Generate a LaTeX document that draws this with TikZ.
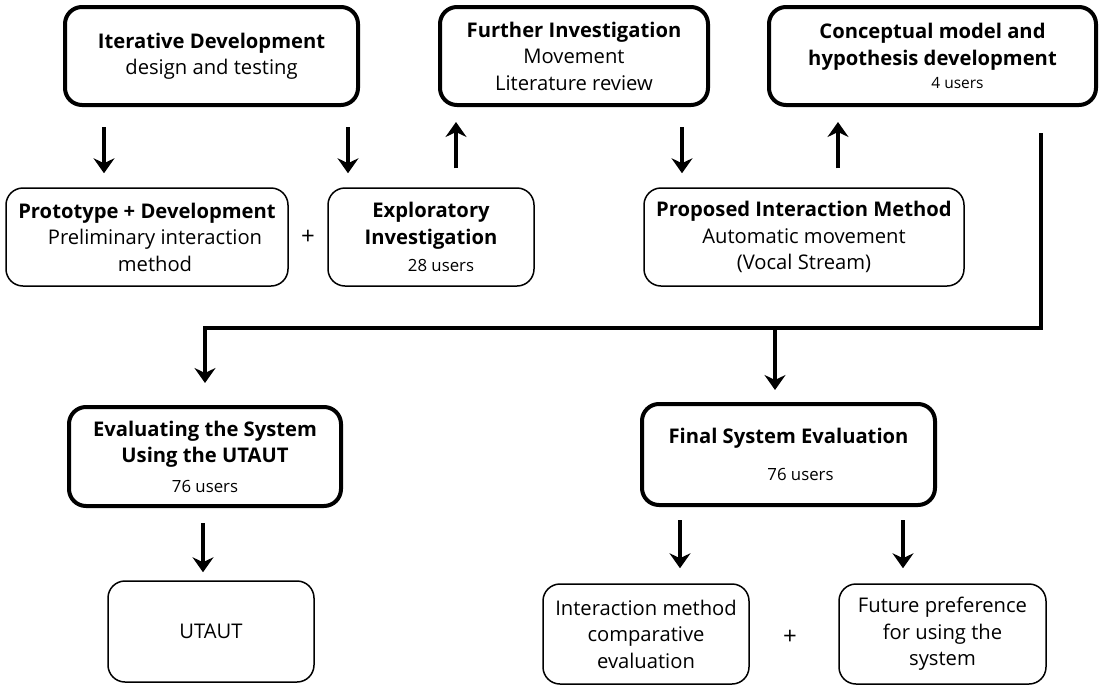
\documentclass[tikz,border=0pt]{standalone}
\usepackage{fontspec}
\setmainfont{Open Sans}
\usetikzlibrary{arrows.meta}
\newcommand\mainfs{\fontsize{20.2}{26.5}\selectfont}
\newcommand\usersfs{\fontsize{16.8}{20}\selectfont}
\newcommand\smallusersfs{\fontsize{15.5}{18}\selectfont}
\begin{document}
\begin{tikzpicture}[x=1pt,y=-1pt,
  box/.style={draw, rounded corners=17pt, align=center, inner sep=0pt, font=\mainfs},
  heavy/.style={box, line width=4pt},
  light/.style={box, line width=1.5pt},
  arr/.style={line width=4pt, line join=miter,
    -{Stealth[length=15pt,width=21pt,inset=5pt]}},
  plus/.style={font=\fontsize{24}{26}\selectfont, inner sep=0pt}]
\fill[white] (0,0) rectangle (1101,686);
\useasboundingbox (0,0) rectangle (1101,686);

% top row
\node[heavy, minimum width=293pt, minimum height=98pt] (iter) at (211.5,56)
  {\textbf{Iterative Development}\\design and testing};
\node[heavy, minimum width=268pt, minimum height=98pt] (further) at (574,56)
  {\textbf{Further Investigation}\\Movement\\Literature review};
\node[heavy, minimum width=327pt, minimum height=98pt] (concept) at (932.5,56)
  {\textbf{Conceptual model and}\\\textbf{hypothesis development}\\[-3pt]{\smallusersfs\hspace*{50pt}4 users}};

% second row
\node[light, minimum width=282pt, minimum height=98pt] (proto) at (147,237)
  {\textbf{Prototype + Development}\\\hspace*{16pt}Preliminary interaction\\\hspace*{16pt}method};
\node[plus] (plus1) at (308,237) {+};
\node[light, minimum width=206pt, minimum height=98pt] (explor) at (431,237)
  {\textbf{Exploratory}\\\textbf{Investigation}\\[1pt]{\usersfs\hspace*{20pt}28 users}};
\node[light, minimum width=320pt, minimum height=98pt] (proposed) at (804,237)
  {\textbf{Proposed Interaction Method}\\Automatic movement\\(Vocal Stream)};

% third row
\node[heavy, minimum width=272pt, minimum height=99pt] (eval) at (205,456.5)
  {\textbf{Evaluating the System}\\\textbf{Using the UTAUT}\\[3pt]{\usersfs 76 users}};
\node[heavy, minimum width=293pt, minimum height=101pt] (final) at (788.5,454.5)
  {\textbf{Final System Evaluation}\\[10pt]{\usersfs\hspace*{24pt}76 users}};

% bottom row
\node[light, minimum width=206pt, minimum height=101pt] (utaut) at (211,631.5) {UTAUT};
\node[light, minimum width=206pt, minimum height=100pt] (inter) at (646,634)
  {Interaction method\\comparative\\evaluation};
\node[plus] (plus2) at (790,637) {+};
\node[light, minimum width=207pt, minimum height=100pt] (future) at (942.5,634)
  {Future preference\\for using the\\system};

% connectors between the top rows
\draw[arr] ([xshift=-107.5pt,yshift=-20pt]iter.south) -- ([xshift=-43pt,yshift=14pt]proto.north);
\draw[arr] ([xshift=136.5pt,yshift=-20pt]iter.south) -- ([xshift=-83pt,yshift=14pt]explor.north);
\draw[arr] ([xshift=25pt,yshift=19pt]explor.north) -- ([xshift=-118pt,yshift=-15pt]further.south);
\draw[arr] ([xshift=108pt,yshift=-20pt]further.south) -- ([xshift=-122pt,yshift=14pt]proposed.north);
\draw[arr] ([xshift=34pt,yshift=19pt]proposed.north) -- ([xshift=-94.5pt,yshift=-15pt]concept.south);

% distribution line to the evaluation stage
\coordinate (bus) at (0,328);
\coordinate (busstart) at ([xshift=108.5pt,yshift=-26pt]concept.south);
\draw[arr] (busstart) -- (busstart |- bus) -| ([yshift=22pt]eval.north);
\draw[arr] ([xshift=-13.5pt]final.north |- bus) -- ([xshift=-13.5pt,yshift=12pt]final.north);

% connectors to the bottom row
\draw[arr] ([xshift=-2pt,yshift=-15pt]eval.south) -- ([xshift=-8pt,yshift=8pt]utaut.north);
\draw[arr] ([xshift=-108.5pt,yshift=-13pt]final.south) -- ([xshift=34pt,yshift=15pt]inter.north);
\draw[arr] ([xshift=114.5pt,yshift=-13pt]final.south) -- ([xshift=-39.5pt,yshift=15pt]future.north);
\end{tikzpicture}
\end{document}
